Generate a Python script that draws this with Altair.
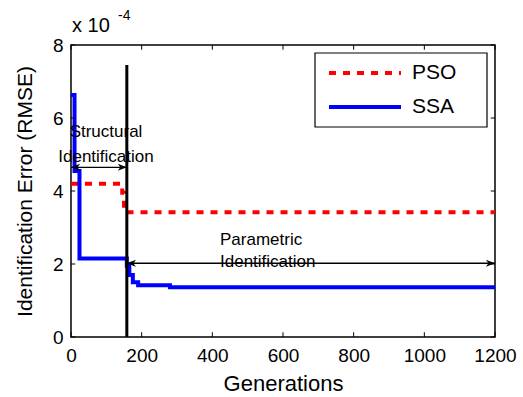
import altair as alt
import pandas as pd

# ---- data ----
generation_ticks = [0, 200, 400, 600, 800, 1000, 1200]
error_ticks = [0, 2, 4, 6, 8]

pso_gen = [0, 145, 150, 1200]
pso_err = [4.2, 3.95, 3.42, 3.42]

ssa_gen = [0, 10, 24, 158, 165, 175, 190, 280, 1200]
ssa_err = [6.63, 4.55, 2.15, 1.95, 1.7, 1.5, 1.42, 1.36, 1.36]

series_names = ["PSO", "SSA"]
series_colors = ["#ff0000", "#0000ff"]

boundary_gen = [158]
boundary_top = [7.45]

structural_span = [0, 158]
structural_level = [4.65]
parametric_span = [158, 1200]
parametric_level = [2.02]

structural_label = ["Structural", "Identification"]
parametric_label = ["Parametric", "Identification"]

FONT = "Liberation Sans"
W, H = 424, 292

xs = alt.Scale(domain=[0, 1200], nice=False)
ys = alt.Scale(domain=[0, 8], nice=False)

x_axis = alt.Axis(values=generation_ticks, format="d", labelOverlap=False, labelFlush=False,
                  labelFontSize=19, domain=False, ticks=False, grid=False,
                  title="Generations", titleFontSize=22, titleFontWeight="normal", labelPadding=9,
                  titlePadding=8, labelColor="black", titleColor="black", labelFont=FONT, titleFont=FONT)
y_axis = alt.Axis(values=error_ticks, format="d", labelOverlap=False, labelFlush=False,
                  labelFontSize=19, domain=False, ticks=False, grid=False,
                  title="Identification Error (RMSE)", titleFontSize=21, titleFontWeight="normal",
                  labelPadding=8, titlePadding=17, labelColor="black", titleColor="black",
                  labelFont=FONT, titleFont=FONT)

pso_df = pd.DataFrame({"gen": pso_gen, "err": pso_err, "series": "PSO"})
ssa_df = pd.DataFrame({"gen": ssa_gen, "err": ssa_err, "series": "SSA"})

pso_line = alt.Chart(pso_df).mark_line(interpolate="step-after", color=series_colors[0], strokeWidth=4,
                                       strokeDash=[7, 7]).encode(
    x=alt.X("gen:Q", scale=xs, axis=x_axis), y=alt.Y("err:Q", scale=ys, axis=y_axis))
ssa_line = alt.Chart(ssa_df).mark_line(interpolate="step-after", color=series_colors[1], strokeWidth=4).encode(
    x=alt.X("gen:Q", scale=xs), y=alt.Y("err:Q", scale=ys))

bdf = pd.DataFrame({"gen": boundary_gen, "top": boundary_top, "bottom": [0]})
boundary = alt.Chart(bdf).mark_rule(color="black", strokeWidth=3).encode(
    x=alt.X("gen:Q", scale=xs), y=alt.Y("bottom:Q", scale=ys), y2="top:Q")


def arrow(span, level):
    df = pd.DataFrame({"x0": [span[0]], "x1": [span[1]], "lvl": level})
    shaft = alt.Chart(df).mark_rule(color="black", strokeWidth=1.3).encode(
        x=alt.X("x0:Q", scale=xs), x2="x1:Q", y=alt.Y("lvl:Q", scale=ys))
    left = alt.Chart(df).mark_point(shape="M0,0L1.4,-0.55L1,0L1.4,0.55Z", filled=True, color="black",
                                    size=170, opacity=1).encode(
        x=alt.X("x0:Q", scale=xs), y=alt.Y("lvl:Q", scale=ys))
    right = alt.Chart(df).mark_point(shape="M0,0L-1.4,-0.55L-1,0L-1.4,0.55Z", filled=True, color="black",
                                     size=170, opacity=1).encode(
        x=alt.X("x1:Q", scale=xs), y=alt.Y("lvl:Q", scale=ys))
    return shaft + left + right


s_arrow = arrow(structural_span, structural_level)
p_arrow = arrow(parametric_span, parametric_level)


def label(text, px, py, size, align="left"):
    return alt.Chart(pd.DataFrame({"t": [text]})).mark_text(
        font=FONT, fontSize=size, color="black", align=align, baseline="middle").encode(
        x=alt.value(px), y=alt.value(py), text="t:N")


s_text = label(structural_label[0], 35, 87, 17, "center") + label(structural_label[1], 35, 112, 17, "center")
p_text = label(parametric_label[0], 149, 195, 17) + label(parametric_label[1], 149, 217, 17)

# inward ticks
tick_len_x = 0.13
tick_len_y = 12
bt = pd.DataFrame({"g": generation_ticks, "a": 0, "b": tick_len_x, "c": 8, "d": 8 - tick_len_x})
xt_bottom = alt.Chart(bt).mark_rule(color="black", strokeWidth=1).encode(
    x=alt.X("g:Q", scale=xs), y=alt.Y("a:Q", scale=ys), y2="b:Q")
xt_top = alt.Chart(bt).mark_rule(color="black", strokeWidth=1).encode(
    x=alt.X("g:Q", scale=xs), y=alt.Y("c:Q", scale=ys), y2="d:Q")
lt = pd.DataFrame({"e": error_ticks, "a": 0, "b": tick_len_y, "c": 1200, "d": 1200 - tick_len_y})
yt_left = alt.Chart(lt).mark_rule(color="black", strokeWidth=1).encode(
    y=alt.Y("e:Q", scale=ys), x=alt.X("a:Q", scale=xs), x2="b:Q")
yt_right = alt.Chart(lt).mark_rule(color="black", strokeWidth=1).encode(
    y=alt.Y("e:Q", scale=ys), x=alt.X("c:Q", scale=xs), x2="d:Q")

# exponent label
mult = label("x 10", 1, -19, 20)
expo = label("-4", 47, -29, 14)

# legend (manual, MATLAB style)
leg_box = alt.Chart(pd.DataFrame({"k": [0]})).mark_rect(fill="white", stroke="black", strokeWidth=1.2).encode(
    x=alt.value(244), x2=alt.value(416), y=alt.value(8), y2=alt.value(82))
leg_pso = alt.Chart(pd.DataFrame({"k": [0]})).mark_rule(color=series_colors[0], strokeWidth=4,
                                                         strokeDash=[7, 7]).encode(
    x=alt.value(258), x2=alt.value(330), y=alt.value(28))
leg_ssa = alt.Chart(pd.DataFrame({"k": [0]})).mark_rule(color=series_colors[1], strokeWidth=4).encode(
    x=alt.value(258), x2=alt.value(330), y=alt.value(62))
leg_txt = label(series_names[0], 341, 28, 21) + label(series_names[1], 341, 62, 21)

chart = alt.layer(
    pso_line, ssa_line, boundary, s_arrow, p_arrow, s_text, p_text,
    xt_bottom, xt_top, yt_left, yt_right, mult, expo,
    leg_box, leg_pso, leg_ssa, leg_txt
).properties(
    width=W, height=H,
    autosize=alt.AutoSizeParams(type="none"),
    padding={"left": 71, "top": 45, "right": 28, "bottom": 60},
    background="white",
).configure_view(stroke="black", strokeWidth=1.5)

chart.save("out.html", embed_options={"renderer": "svg", "actions": False})
